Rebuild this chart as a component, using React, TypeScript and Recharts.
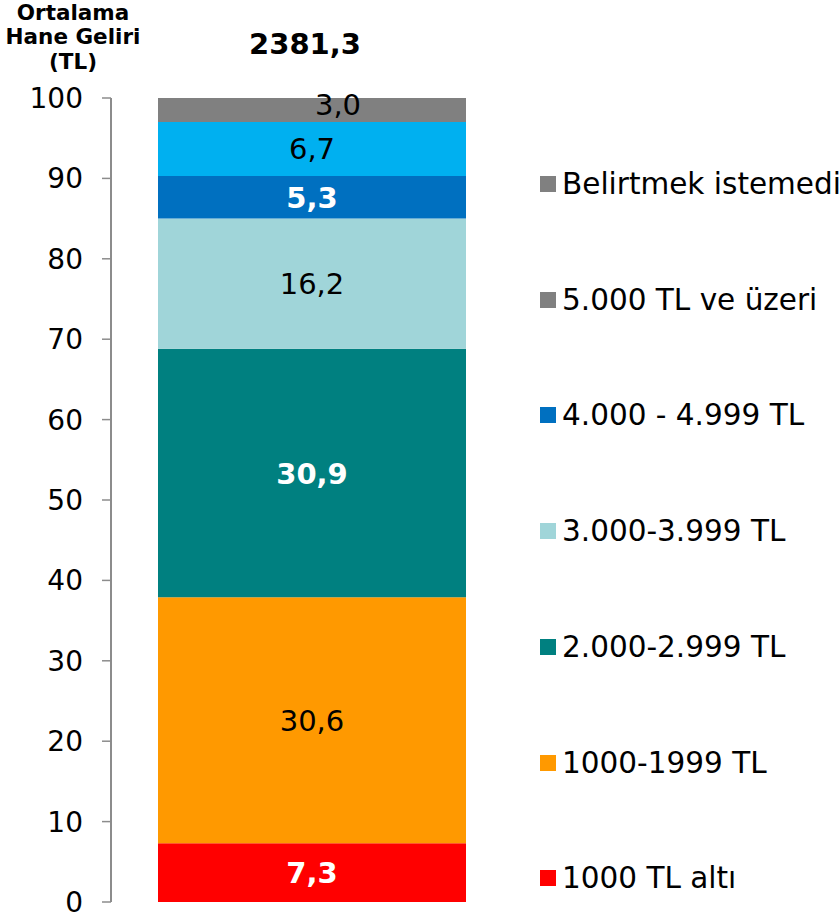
import React from 'react';
import { BarChart, Bar, XAxis, YAxis, LabelList, Legend } from 'recharts';

const categories = ['Hane'];
const seriesNames = [
  '1000 TL altı',
  '1000-1999 TL',
  '2.000-2.999 TL',
  '3.000-3.999 TL',
  '4.000 - 4.999 TL',
  '5.000 TL ve üzeri',
  'Belirtmek istemedi',
];
const seriesValues = [7.3, 30.6, 30.9, 16.2, 5.3, 6.7, 3.0];
const averageIncome = [2381.3];
const yTicks = [0, 10, 20, 30, 40, 50, 60, 70, 80, 90, 100];
const titleLines = ['Ortalama', 'Hane Geliri', '(TL)'];

const FONT = '"DejaVu Sans", Verdana, sans-serif';
const barColors = ['#FF0000', '#FF9900', '#008080', '#A0D5D9', '#0070C0', '#00B0F0', '#808080'];
const legendColors = ['#FF0000', '#FF9900', '#008080', '#A0D5D9', '#0070C0', '#808080', '#808080'];
const labelBoldWhite = [true, false, true, false, true, false, false];

const fmt = (v: number) => Number(v).toFixed(1).replace('.', ',');

const data = categories.map((c, ci) => {
  const row: Record<string, any> = { name: c, total: averageIncome[ci] };
  seriesValues.forEach((v, i) => {
    row['s' + i] = v;
  });
  return row;
});

const makeLabel = (i: number) => (props: any) => {
  const x = Number(props.x);
  const y = Number(props.y);
  const w = Number(props.width);
  const h = Number(props.height);
  const isTop = i === seriesValues.length - 1;
  const cx = x + w / 2 + (isTop ? 26 : 0);
  const cy = y + h / 2 + (isTop ? -6 : 0);
  const bw = labelBoldWhite[i];
  return (
    <text
      x={cx}
      y={cy}
      dy="0.36em"
      textAnchor="middle"
      fontSize={29}
      fontFamily={FONT}
      fontWeight={bw ? 'bold' : 'normal'}
      fill={bw ? '#FFFFFF' : '#000000'}
    >
      {fmt(props.value)}
    </text>
  );
};

const totalLabel = (props: any) => {
  const x = Number(props.x);
  const y = Number(props.y);
  const w = Number(props.width);
  return (
    <text
      x={x + w / 2 - 7}
      y={y - 44}
      textAnchor="middle"
      fontSize={29}
      fontFamily={FONT}
      fontWeight="bold"
      fill="#000"
    >
      {fmt(props.value)}
    </text>
  );
};

const titleContent = (props: any) => {
  const vb = props.viewBox || { x: 0, y: 98 };
  const cx = Number(vb.x) + 73;
  const top = Number(vb.y);
  return (
    <g>
      {titleLines.map((t, k) => (
        <text
          key={k}
          x={cx}
          y={top - 78.5 + k * 24.5}
          textAnchor="middle"
          fontSize={21.5}
          fontWeight="bold"
          fontFamily={FONT}
          fill="#000"
        >
          {t}
        </text>
      ))}
    </g>
  );
};

const legendOrder = seriesNames.map((_, i) => seriesNames.length - 1 - i);

const renderLegend = () => (
  <div style={{ position: 'relative', width: 840, height: 915 }}>
    {legendOrder.map((idx, k) => (
      <div
        key={idx}
        style={{
          position: 'absolute',
          left: 540,
          top: 184 + k * 115.7 - 18,
          height: 36,
          display: 'flex',
          alignItems: 'center',
          whiteSpace: 'nowrap',
        }}
      >
        <span
          style={{
            display: 'inline-block',
            width: 16,
            height: 16,
            background: legendColors[idx],
            marginRight: 6,
          }}
        />
        <span style={{ fontSize: 29.5, fontFamily: FONT, color: '#000', lineHeight: '36px' }}>
          {seriesNames[idx]}
        </span>
      </div>
    ))}
  </div>
);

export default function App() {
  return (
    <div style={{ position: 'absolute', left: 0, top: 0, width: 840, height: 915, background: '#fff', fontFamily: FONT }}>
      <BarChart
        width={840}
        height={915}
        data={data}
        margin={{ top: 98, right: 328, bottom: 13, left: 0 }}
      >
        <XAxis
          dataKey="name"
          tick={false}
          tickLine={false}
          height={0}
          axisLine={{ stroke: '#8C8C8C', strokeWidth: 2 }}
        />
        <YAxis
          type="number"
          domain={[0, 100]}
          ticks={yTicks}
          interval={0}
          width={111}
          tickSize={9}
          tickMargin={19}
          axisLine={{ stroke: '#8C8C8C', strokeWidth: 2 }}
          tickLine={{ stroke: '#8C8C8C', strokeWidth: 1.5 }}
          tick={{ fontSize: 28, fill: '#000', fontFamily: FONT }}
          label={{ content: titleContent }}
        />
        <Legend
          layout="vertical"
          align="center"
          verticalAlign="middle"
          content={renderLegend}
          wrapperStyle={{ left: 0, top: 0, width: 840, height: 915, pointerEvents: 'none' }}
        />
        {seriesValues.map((_, i) => (
          <Bar
            key={i}
            dataKey={'s' + i}
            name={seriesNames[i]}
            stackId="a"
            fill={barColors[i]}
            barSize={308}
            isAnimationActive={false}
          >
            <LabelList dataKey={'s' + i} content={makeLabel(i)} />
            {i === seriesValues.length - 1 ? <LabelList dataKey="total" content={totalLabel} /> : null}
          </Bar>
        ))}
      </BarChart>
    </div>
  );
}
